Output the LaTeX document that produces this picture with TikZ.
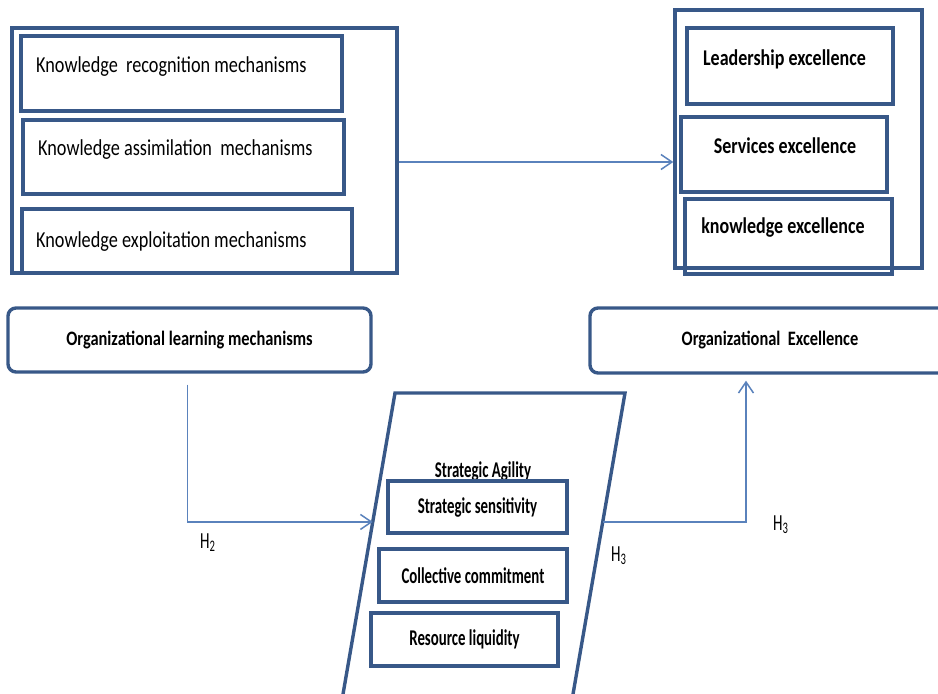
\documentclass[tikz,border=0pt]{standalone}
\usepackage{fontspec}
\setmainfont{Carlito}[FakeStretch=0.8]
\newfontfamily\narrowfont{Carlito}[FakeStretch=0.66]
\usetikzlibrary{positioning,arrows.meta,calc}
\definecolor{boxblue}{HTML}{385888}
\definecolor{linkblue}{HTML}{5A82BC}

\begin{document}
\begin{tikzpicture}[x=1pt,y=-1pt,>={Straight Barb[length=11pt,width=15pt]},
  edgeline/.style={draw=boxblue,line width=3.4pt},
  frame/.style={edgeline,inner sep=0pt},
  link/.style={draw=linkblue,line width=1.5pt},
  mechtext/.style={inner sep=0pt,anchor=base west,font=\fontsize{22.8}{27}\selectfont},
  exctext/.style={inner sep=0pt,anchor=base,font=\bfseries\fontsize{22.5}{27}\selectfont},
  agiltext/.style={font=\narrowfont\bfseries\fontsize{22.5}{27}\selectfont},
  hlabel/.style={inner sep=0pt,anchor=base west,font=\narrowfont\fontsize{23}{27}\selectfont}]
\fill[white] (0,0) rectangle (938,694);
\useasboundingbox (0,0) rectangle (938,694);

% learning mechanisms group
\node[frame,minimum width=385pt,minimum height=245pt] (mechgroup) at (204.5,150.5) {};
\node[frame,minimum width=321pt,minimum height=75pt] (recog) at (181.5,73.5) {};
\node[mechtext] (recogtxt) at (36,72) {Knowledge\ \ recognition mechanisms};
\node[frame,minimum width=321pt,minimum height=74pt] (assim) at (183.5,157) {};
\node[mechtext] (assimtxt) at (38,155) {Knowledge assimilation\ \ mechanisms};
\node[frame,minimum width=330pt,minimum height=64pt] (exploit) at (187,241) {};
\node[mechtext] (exploittxt) at (36,247) {Knowledge exploitation mechanisms};

% excellence group
\node[frame,minimum width=247pt,minimum height=258pt] (excgroup) at (798.5,139) {};
\node[frame,minimum width=206pt,minimum height=76pt] (lead) at (790,66) {};
\node[exctext] (leadtxt) at (784.5,65) {Leadership excellence};
\node[frame,minimum width=206pt,minimum height=75pt] (serv) at (784,154.5) {};
\node[exctext] (servtxt) at (785,153) {Services excellence};
\node[frame,minimum width=207pt,minimum height=75pt] (know) at (788.5,236.5) {};
\node[exctext] (knowtxt) at (783,233) {knowledge excellence};

% main variables
\node[frame,rounded corners=8pt,minimum width=363pt,minimum height=64pt,font=\bfseries\fontsize{20.5}{25}\selectfont] (olm) at (189.5,340) {Organizational learning mechanisms};
\node[frame,rounded corners=8pt,minimum width=360pt,minimum height=65pt,font=\bfseries\fontsize{20.5}{25}\selectfont] (oe) at (770,340.5) {Organizational\ \ Excellence};

% strategic agility
\coordinate (sa-tl) at (395,393);
\coordinate (sa-tr) at (625,393);
\coordinate (sa-br) at (572,700);
\coordinate (sa-bl) at (342,700);
\draw[edgeline] (sa-tl) -- (sa-tr) -- (sa-br) -- (sa-bl) -- cycle;
\node[agiltext,inner sep=0pt,anchor=base] (agility) at (483,477) {Strategic Agility};
\node[frame,agiltext,minimum width=179pt,minimum height=52pt] (sens) at (477.5,507) {Strategic sensitivity};
\node[frame,agiltext,minimum width=188pt,minimum height=53pt] (commit) at (473,575.5) {Collective commitment};
\node[frame,agiltext,minimum width=187pt,minimum height=53pt] (liquid) at (464.5,639.5) {Resource liquidity};

% connectors
\coordinate (sa-in) at ($(sa-tl)!0.42!(sa-bl)$);
\coordinate (sa-out) at ($(sa-tr)!0.42!(sa-br)$);
\draw[link,->] ([yshift=-11.5pt]mechgroup.east) -- ([yshift=-11.5pt]mechgroup.east -| excgroup.west);
\draw[link,->] ([xshift=-2pt,yshift=-11pt]olm.south) |- (sa-in);
\draw[link,->] (sa-out) -| ([xshift=-24pt,yshift=-6pt]oe.south);

\node[hlabel] (h2) at (200,548) {H\textsubscript{2}};
\node[hlabel] (h3a) at (611,561) {H\textsubscript{3}};
\node[hlabel] (h3b) at (773,530) {H\textsubscript{3}};
\end{tikzpicture}
\end{document}
